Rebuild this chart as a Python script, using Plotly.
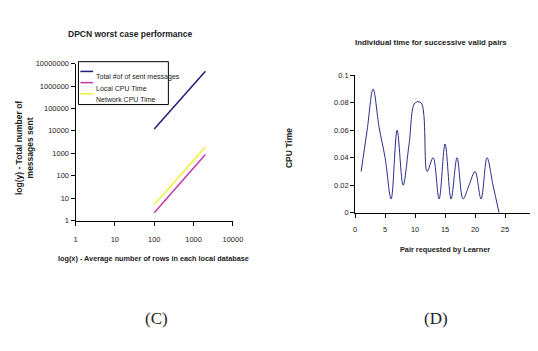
import plotly.graph_objects as go

W, H = 538, 351
FONT = "Liberation Sans, Arial, sans-serif"

# Panel C data
rows = [100, 200, 500, 1000, 2000]
total_msgs = [12000, 48000, 300000, 1200000, 4600000]
local_cpu = [2.2, 9, 55, 220, 880]
network_cpu = [5, 20, 125, 500, 1900]
c_xticks = [1, 10, 100, 1000, 10000]
c_yticks = [1, 10, 100, 1000, 10000, 100000, 1000000, 10000000]
series_names = ["Total #of of sent messages", "Local CPU Time", "Network CPU Time"]
series_colors = ["#1f1f78", "#c23aa8", "#f2f032"]

# Panel D data
pairs = list(range(1, 25))
cpu_time = [0.03, 0.06, 0.09, 0.062, 0.04, 0.01, 0.06, 0.02, 0.05, 0.08,
            0.08, 0.03, 0.04, 0.01, 0.05, 0.01, 0.04, 0.01, 0.02, 0.03,
            0.01, 0.04, 0.02, 0.0]
d_xticks = [0, 5, 10, 15, 20, 25, 30]
d_yticks = [0, 0.02, 0.04, 0.06, 0.08, 0.1]

fig = go.Figure()
for name, ys, col in zip(series_names, [total_msgs, local_cpu, network_cpu], series_colors):
    fig.add_trace(go.Scatter(x=rows, y=ys, mode="lines", name=name, showlegend=False,
                             line=dict(color=col, width=1.5), xaxis="x", yaxis="y"))
fig.add_trace(go.Scatter(x=pairs, y=cpu_time, mode="lines", showlegend=False,
                         line=dict(color="#2b2b8a", width=1, shape="spline", smoothing=1),
                         xaxis="x2", yaxis="y2"))

axcommon = dict(showgrid=False, zeroline=False, showline=True, linecolor="black", linewidth=1,
                ticks="outside", ticklen=4, tickcolor="black",
                tickfont=dict(family=FONT, size=7.5, color="#222"))

fig.update_layout(
    width=W, height=H, margin=dict(l=0, r=0, t=0, b=0),
    paper_bgcolor="white", plot_bgcolor="white", showlegend=False,
    xaxis=dict(type="log", range=[0, 4], domain=[67 / W, 228 / W], anchor="y",
               tickvals=c_xticks, ticktext=[str(v) for v in c_xticks],
               ticklabelstandoff=7, **axcommon),
    yaxis=dict(type="log", range=[0, 7], domain=[1 - 214 / H, 1 - 53 / H], anchor="x",
               tickvals=c_yticks, ticktext=[str(v) for v in c_yticks], **axcommon),
    xaxis2=dict(range=[0, 30], domain=[353 / W, 537 / W], anchor="y2",
                tickvals=d_xticks, ticktext=[str(v) for v in d_xticks],
                ticklabelstandoff=5, **axcommon),
    yaxis2=dict(range=[0, 0.1], domain=[1 - 206 / H, 1 - 65 / H], anchor="x2",
                tickvals=d_yticks, ticktext=["0", "0.02", "0.04", "0.06", "0.08", "0.1"], **axcommon),
)

def px(x, y):
    return x / W, 1 - y / H

def ann(text, x, y, size=9, bold=True, angle=0, family=FONT, xanchor="center"):
    t = f"<b>{text}</b>" if bold else text
    ax, ay = px(x, y)
    fig.add_annotation(text=t, x=ax, y=ay, xref="paper", yref="paper",
                       showarrow=False, textangle=angle, xanchor=xanchor,
                       font=dict(family=family, size=size, color="#222"))

# manual legend box for panel C
x0, y0 = px(70, 51)
x1, y1 = px(162, 95)
fig.add_shape(type="rect", xref="paper", yref="paper", x0=x0, y0=y1, x1=x1, y1=y0,
              line=dict(color="black", width=1), fillcolor="white", layer="above")
for i, (name, col) in enumerate(zip(series_names, series_colors)):
    yy = 61 + i * 11.5
    lx0, ly = px(72, yy)
    lx1, _ = px(85, yy)
    fig.add_shape(type="line", xref="paper", yref="paper", x0=lx0, x1=lx1, y0=ly, y1=ly,
                  line=dict(color=col, width=1.5), layer="above")
    ann(name, 86, yy, size=7, bold=False, xanchor="left")

ann("DPCN worst case performance", 123, 15, size=8.5)
ann("log(x) - Average number of rows in each local database", 147, 260, size=7.3)
ann("log(y) - Total number of<br>messages sent", 15, 140, size=8.5, angle=-90)
ann("Individual time for successive valid pairs", 431, 25, size=7.8)
ann("Pair requested by Learner", 445, 250, size=7.3)
ann("CPU Time", 286, 140, size=8.5, angle=-90)
ann("(C)", 150, 326, size=17, bold=False, family="Liberation Serif, Times New Roman, serif")
ann("(D)", 436, 326, size=17, bold=False, family="Liberation Serif, Times New Roman, serif")

fig.write_html("out.html")
